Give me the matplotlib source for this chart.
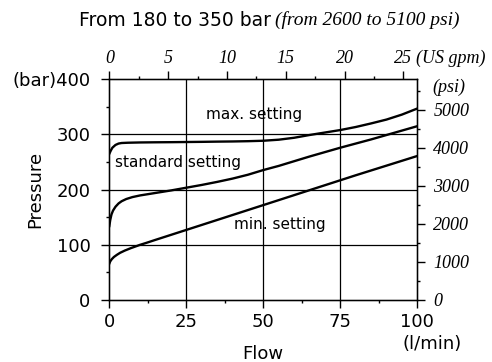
import matplotlib
matplotlib.use("Agg")
import matplotlib.pyplot as plt
from matplotlib.ticker import MultipleLocator

# flow (l/min) vs pressure (bar)
flow_max = [0, 0.5, 1, 2, 3, 4, 6, 10, 15, 20, 25, 30, 35, 40, 45, 50, 55, 60, 65, 70, 75, 80, 85, 90, 95, 100]
p_max = [265, 271, 276, 281, 283.5, 284.5, 285, 285.5, 285.8, 286, 286.3, 286.6, 287, 287.3, 287.8, 288.6,
         290.5, 294, 299, 303.5, 308, 313.5, 320, 327, 336, 347]

flow_std = [0, 0.3, 0.7, 1.2, 2, 3, 4, 5.5, 7.5, 10, 15, 20, 25, 30, 35, 40, 45, 50, 55, 60, 65, 70, 75,
            80, 85, 90, 95, 100]
p_std = [134, 145, 155, 162, 169, 175, 179, 183, 186.5, 189.5, 194, 198.5, 203.5, 208.5, 214, 220, 227,
         235.5, 243, 251.5, 260, 268, 276, 283.5, 291, 299, 307, 315]

flow_min = [0, 0.3, 0.8, 1.5, 2.5, 3.5, 5, 7, 9, 10, 12, 15, 20, 25, 30, 40, 50, 60, 70, 75, 80, 90, 100]
p_min = [66, 70, 74, 78, 82, 85.5, 89.5, 94, 98, 100, 103.5, 109, 118, 127, 136, 154, 172, 190, 208, 217,
         226, 243.5, 261]

bar_ticks = [0, 100, 200, 300, 400]
bar_labels = ["0", "100", "200", "300", "(bar)400"]
flow_ticks = [0, 25, 50, 75, 100]
gpm_ticks = [0, 5, 10, 15, 20, 25]
psi_ticks = [0, 1000, 2000, 3000, 4000, 5000]

LPM_PER_GPM = 3.82
PSI_PER_BAR = 14.5

sans = "DejaVu Sans"
serif = "Liberation Serif"

fig = plt.figure(figsize=(4.92, 3.62), dpi=100)
ax = fig.add_axes([0.2222, 0.1713, 0.6260, 0.6097])

for x, y in [(flow_max, p_max), (flow_std, p_std), (flow_min, p_min)]:
    ax.plot(x, y, color="black", lw=1.7)

ax.set_xlim(0, 100)
ax.set_ylim(0, 400)
ax.set_xticks(flow_ticks)
ax.set_xticklabels([str(t) for t in flow_ticks], fontsize=13, family=sans)
ax.xaxis.set_minor_locator(MultipleLocator(12.5))
ax.set_yticks(bar_ticks)
ax.set_yticklabels(bar_labels, fontsize=13, family=sans)
ax.yaxis.set_minor_locator(MultipleLocator(50))
ax.tick_params(which="major", direction="out", length=5.5, width=1, pad=4)
ax.tick_params(which="minor", direction="out", length=2.5, width=1)
ax.tick_params(axis="y", which="major", pad=8)

# grid lines
for g in [25, 50, 75]:
    ax.axvline(g, color="black", lw=0.9)
for g in [100, 200, 300]:
    ax.axhline(g, color="black", lw=0.9)

for s in ax.spines.values():
    s.set_linewidth(1)

fig.text(35 / 492, 1 - 189 / 362, "Pressure", fontsize=13, family=sans, rotation=90,
         ha="center", va="center")
fig.text(263 / 492, 1 - 354 / 362, "Flow", fontsize=13, family=sans, ha="center", va="center")
fig.text(432 / 492, 1 - 344 / 362, "(l/min)", fontsize=13, family=sans, ha="center", va="center")

ax.text(47, 336, "max. setting", fontsize=11, family=sans, ha="center", va="center")
ax.text(22.3, 250, "standard setting", fontsize=11, family=sans, ha="center", va="center")
ax.text(55.4, 136, "min. setting", fontsize=11, family=sans, ha="center", va="center")

# top axis in US gpm
axt = ax.twiny()
axt.set_xlim(0, 100 / LPM_PER_GPM)
axt.set_xticks(gpm_ticks)
axt.set_xticklabels([str(t) for t in gpm_ticks], fontsize=13, family=serif, style="italic")
axt.xaxis.set_minor_locator(MultipleLocator(2.5))
axt.tick_params(which="major", direction="out", length=5.5, width=1, pad=3)
axt.tick_params(which="minor", direction="out", length=2.5, width=1)
fig.text(416 / 492, 1 - 58 / 362, "(US gpm)", fontsize=13, family=serif, style="italic",
         ha="left", va="center")

# right axis in psi
axr = ax.twinx()
axr.set_ylim(0, 400 * PSI_PER_BAR)
axr.set_yticks(psi_ticks)
axr.set_yticklabels([str(t) for t in psi_ticks], fontsize=13, family=serif, style="italic")
axr.yaxis.set_minor_locator(MultipleLocator(500))
axr.tick_params(which="major", direction="out", length=5.5, width=1, pad=6)
axr.tick_params(which="minor", direction="out", length=2.5, width=1)
fig.text(432 / 492, 1 - 87.5 / 362, "(psi)", fontsize=13, family=serif, style="italic",
         ha="left", va="center")

# title in two fonts
fig.text(271 / 492, 1 - 20 / 362, "From 180 to 350 bar", fontsize=13.5, family=sans, ha="right", va="center")
fig.text(275 / 492, 1 - 20 / 362, "(from 2600 to 5100 psi)", fontsize=14, family=serif, style="italic",
         ha="left", va="center")

fig.savefig("out.png", dpi=100)
